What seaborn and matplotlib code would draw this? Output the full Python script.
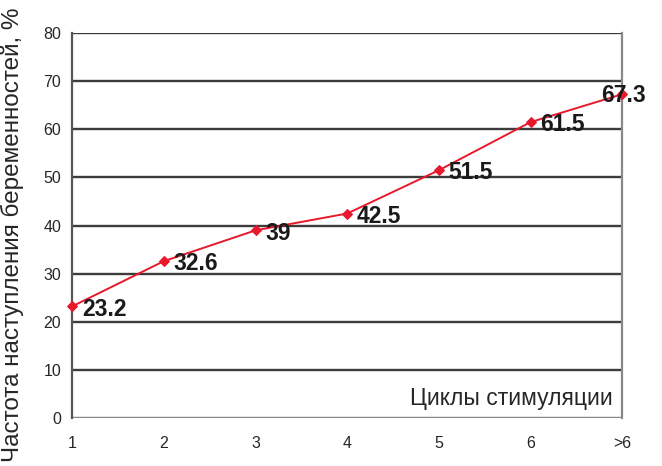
import matplotlib
matplotlib.use("Agg")
import matplotlib.pyplot as plt
import seaborn as sns
import pandas as pd

# данные
cycles = ["1", "2", "3", "4", "5", "6", ">6"]
rate = [23.2, 32.6, 39, 42.5, 51.5, 61.5, 67.3]
rate_labels = ["23.2", "32.6", "39", "42.5", "51.5", "61.5", "67.3"]

df = pd.DataFrame({"pos": range(len(cycles)), "rate": rate})

sns.set_style("white")
plt.rcParams['font.family'] = ['Liberation Sans', 'DejaVu Sans']

fig = plt.figure(figsize=(6.62, 4.66), dpi=100)
ax = fig.add_axes([0.109, 0.103, 0.831, 0.826])

# сетка
for y in range(10, 81, 10):
    ax.axhline(y, color="#3c3c3c", lw=1.7, zorder=1)
ax.axhline(0, color="#8a8a8a", lw=2.5, zorder=1)

sns.lineplot(data=df, x="pos", y="rate", ax=ax, color="#e8192c", lw=1.4,
             marker="D", markersize=5.5, markeredgecolor="#e8192c", zorder=3, clip_on=False)

for i, (v, t) in enumerate(zip(rate, rate_labels)):
    if i == len(rate) - 1:
        off, ha = (1, -1), "center"
    else:
        off, ha = (7, -2), "left"
    ax.annotate(t, (i, v), xytext=off, textcoords="offset points",
                ha=ha, va="center", fontsize=16.5, fontweight="bold",
                color="#1a1a1a", zorder=4, annotation_clip=False)

ax.set_xlim(0, 6)
ax.set_ylim(0, 80)
ax.set_xticks(range(len(cycles)))
ax.set_xticklabels(cycles, fontsize=11.5)
ax.set_yticks(range(0, 81, 10))
ax.set_yticklabels([str(v) for v in range(0, 81, 10)], fontsize=11.5)
ax.tick_params(axis="y", length=6, width=1, color="#555555", pad=2)
ax.tick_params(axis="x", length=5, width=1.2, color="#888888", pad=8)

ax.spines["top"].set_visible(False)
ax.spines["bottom"].set_visible(False)
ax.spines["left"].set_color("#555555")
ax.spines["left"].set_linewidth(1.6)
ax.spines["right"].set_color("#888888")
ax.spines["right"].set_linewidth(1.6)

ax.set_xlabel("")
ax.set_ylabel("Частота наступления беременностей, %", fontsize=17.5)
ax.yaxis.set_label_coords(-0.088, 0.475)
ax.text(0.983, 0.022, "Циклы стимуляции", transform=ax.transAxes,
        ha="right", va="bottom", fontsize=16.5)

fig.savefig("out.png", dpi=100)
